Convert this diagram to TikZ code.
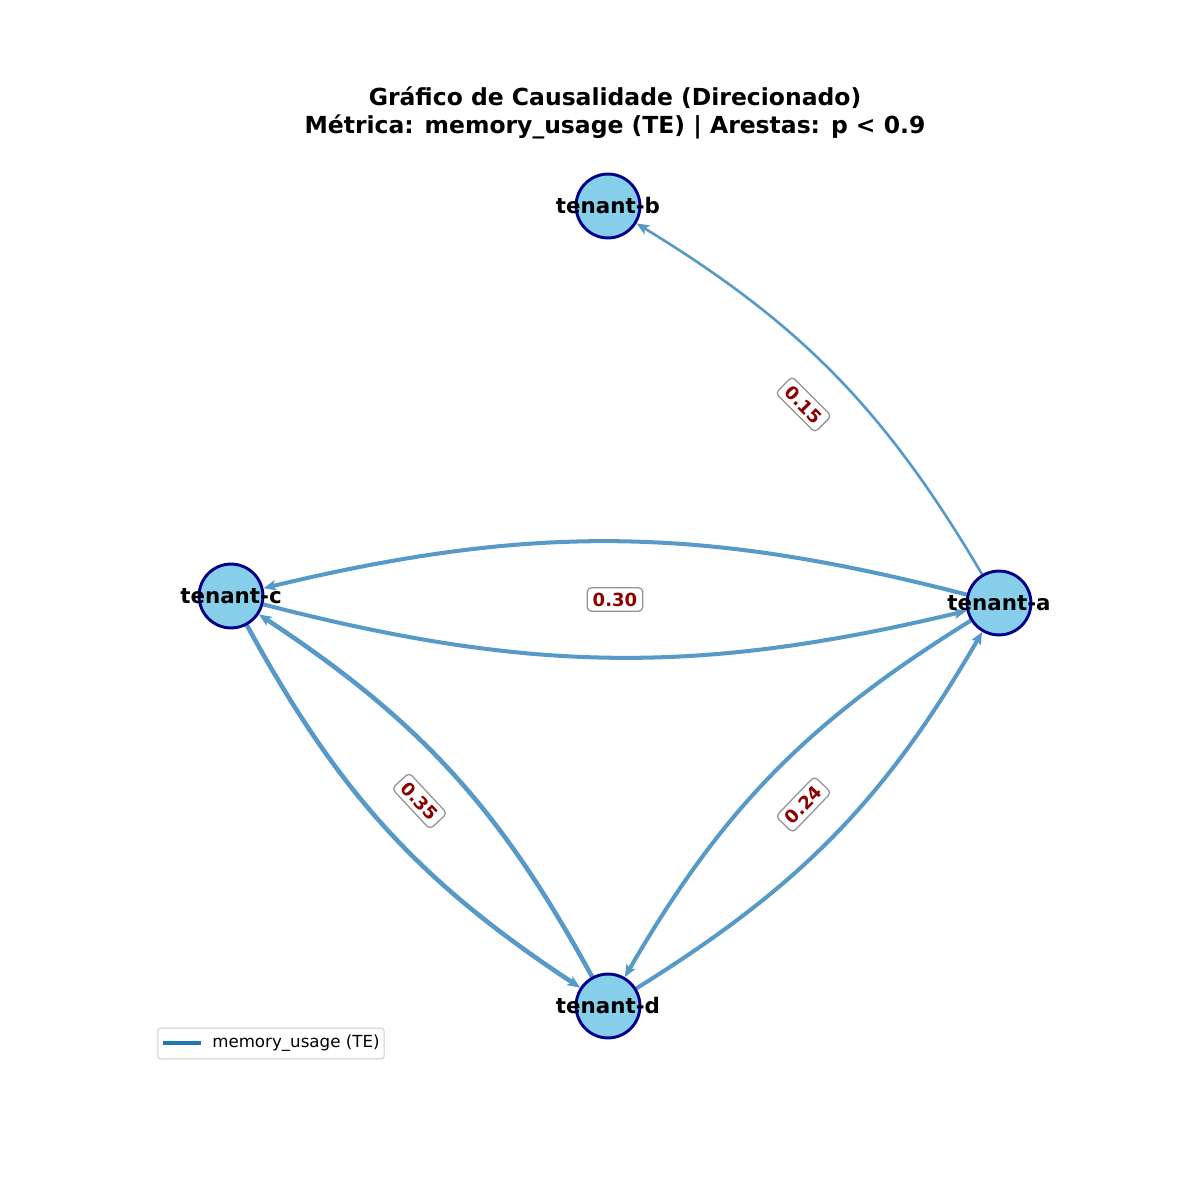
\documentclass[tikz,border=0pt]{standalone}
\usepackage{fontspec}
\setmainfont{DejaVu Sans}
\usepackage{tikz}
\usetikzlibrary{arrows.meta,calc,backgrounds}
\definecolor{tabblue}{HTML}{1F77B4}
\definecolor{edgeblue}{HTML}{5799C7}
\definecolor{nodefill}{HTML}{87CEEB}
\definecolor{nodeline}{HTML}{00008B}
\definecolor{lblred}{HTML}{8B0000}
\newcommand{\tenant}[1]{\fontsize{15.4}{18}\selectfont\bfseries tenant-#1}

\begin{document}
\begin{tikzpicture}[x=0.72pt, y=-0.72pt,
		tnode/.style={circle, draw=nodeline, fill=nodefill, line width=2.1pt, minimum size=46pt, inner sep=0pt},
		causal/.style={draw=edgeblue, line width=2.9pt, -{Stealth[length=9pt, width=7.5pt, inset=2pt]}, bend right=14},
		weight/.style={draw=gray!85, fill=white, rounded corners=3pt, line width=0.9pt, inner xsep=4pt, inner ysep=3.5pt, text=lblred, font=\fontsize{13}{15}\selectfont\bfseries}]
		\useasboundingbox (0,0) rectangle (1200,1200);
		% title
		\node[align=center, font=\fontsize{16.9}{20.5}\selectfont\bfseries] (title) at (615,113)
		{Gráfico de Causalidade (Direcionado)\\Métrica: memory\_usage (TE) | Arestas: p < 0.9};
		% tenants
		\node[tnode, label={center:\tenant{b}}] (b) at (608,206) {};
		\node[tnode, label={center:\tenant{c}}] (c) at (231,596) {};
		\node[tnode, label={center:\tenant{a}}] (a) at (999,603) {};
		\node[tnode, label={center:\tenant{d}}] (d) at (608,1006) {};
		% edges
		\begin{scope}[on background layer]
		\path
		(a) edge [causal, line width=1.9pt] (b)
		edge [causal] (c)
		edge [causal] (d)
		(c) edge [causal] (a)
		edge [causal, line width=3.3pt] (d)
		(d) edge [causal, line width=3.3pt] (c)
		edge [causal] (a);
		\end{scope}
		% weights
		\node[weight, rotate=-45] (w-ab) at ($(a)!0.5!(b)$) {0.15};
		\node[weight] (w-ac) at ($(a)!0.5!(c)$) {0.30};
		\node[weight, rotate=-47] (w-cd) at ($(c)!0.5!(d)$) {0.35};
		\node[weight, rotate=46] (w-ad) at ($(d)!0.5!(a)$) {0.24};
		% legend
		\node[draw=black!20, fill=white, rounded corners=2pt, line width=0.7pt, minimum width=163pt, minimum height=22pt] (legend) at (271,1043.5) {};
		\coordinate (key-start) at (163,1043);
		\coordinate (key-end) at (201,1043);
		\draw[tabblue, line width=3pt] (key-start) -- (key-end);
		\node[anchor=west, inner sep=0pt, font=\fontsize{12}{14}\selectfont] (key-text) at (212,1043) {memory\_usage (TE)};
		\end{tikzpicture}
\end{document}
